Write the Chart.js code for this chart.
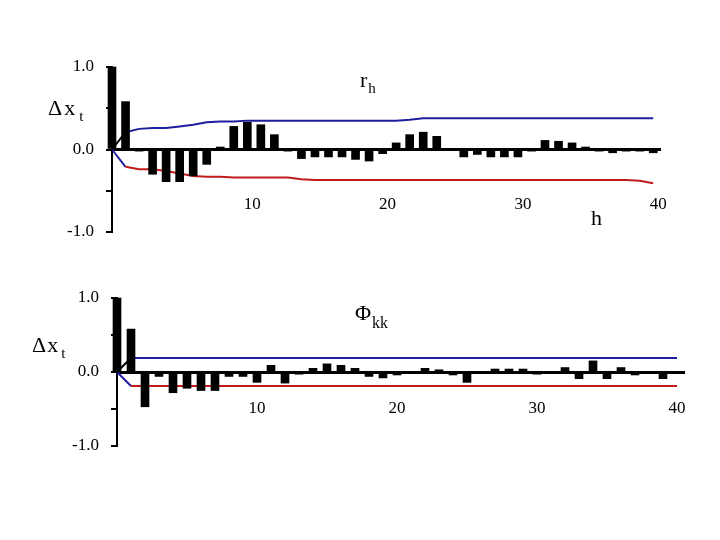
<!DOCTYPE html>
<html>
<head>
<meta charset="utf-8">
<script src="https://cdn.jsdelivr.net/npm/chart.js@4/dist/chart.umd.min.js"></script>
<style>
  body { margin: 0; background: #fff; }
  #wrap { position: relative; width: 720px; height: 540px; }
  canvas { position: absolute; left: 0; }
  .lbl { position: absolute; font-family: "Liberation Serif", serif; line-height: 1; color: #000; white-space: nowrap; }
  .sub { position: relative; }
</style>
</head>
<body>
<div id="wrap">
  <canvas id="acfChart" width="720" height="270" style="top:0"></canvas>
  <canvas id="pacfChart" width="720" height="270" style="top:270px"></canvas>

  <div class="lbl" style="left:48px; top:97px; font-size:22px">Δ<span style="margin-left:2px">x</span><span class="sub" style="font-size:15px; top:6px; margin-left:4px">t</span></div>
  <div class="lbl" style="left:360px; top:69px; font-size:22px">r<span class="sub" style="font-size:15px; top:6px; margin-left:1px">h</span></div>
  <div class="lbl" style="left:591px; top:207px; font-size:22px">h</div>

  <div class="lbl" style="left:32px; top:334px; font-size:22px">Δ<span style="margin-left:1px">x</span><span class="sub" style="font-size:15px; top:6px; margin-left:3px">t</span></div>
  <div class="lbl" style="left:355px; top:302px; font-size:22px">Φ<span class="sub" style="font-size:16px; top:8px; margin-left:1px">kk</span></div>
</div>

<script>
// lags 0..40
const lags = [0, 1, 2, 3, 4, 5, 6, 7, 8, 9, 10, 11, 12, 13, 14, 15, 16, 17, 18, 19, 20,
  21, 22, 23, 24, 25, 26, 27, 28, 29, 30, 31, 32, 33, 34, 35, 36, 37, 38, 39, 40];
const xTickLabels = ["10", "20", "30", "40"];
const yTickLabels = ["-1.0", "0.0", "1.0"];

// autocorrelations r_h
const acf = [1.0, 0.58, -0.02, -0.30, -0.39, -0.39, -0.32, -0.18, 0.03, 0.28, 0.33,
  0.30, 0.18, -0.02, -0.11, -0.09, -0.09, -0.09, -0.12, -0.14, -0.05,
  0.08, 0.18, 0.21, 0.16, -0.01, -0.09, -0.06, -0.09, -0.09, -0.09,
  -0.02, 0.11, 0.10, 0.08, 0.03, -0.02, -0.04, -0.02, -0.02, -0.04];
const acfUpper = [0, 0.21, 0.25, 0.26, 0.26, 0.28, 0.30, 0.33, 0.34, 0.34, 0.35,
  0.35, 0.35, 0.35, 0.35, 0.35, 0.35, 0.35, 0.35, 0.35, 0.35,
  0.35, 0.36, 0.38, 0.38, 0.38, 0.38, 0.38, 0.38, 0.38, 0.38,
  0.38, 0.38, 0.38, 0.38, 0.38, 0.38, 0.38, 0.38, 0.38, 0.38];
const acfLower = [0, -0.21, -0.24, -0.24, -0.26, -0.29, -0.32, -0.33, -0.33, -0.34, -0.34,
  -0.34, -0.34, -0.34, -0.36, -0.37, -0.37, -0.37, -0.37, -0.37, -0.37,
  -0.37, -0.37, -0.37, -0.37, -0.37, -0.37, -0.37, -0.37, -0.37, -0.37,
  -0.37, -0.37, -0.37, -0.37, -0.37, -0.37, -0.37, -0.37, -0.38, -0.41];

// partial autocorrelations phi_kk
const pacf = [1.0, 0.58, -0.47, -0.06, -0.28, -0.22, -0.25, -0.25, -0.06, -0.06, -0.14,
  0.09, -0.15, -0.03, 0.05, 0.11, 0.09, 0.05, -0.06, -0.08, -0.04,
  -0.01, 0.05, 0.03, -0.04, -0.14, -0.01, 0.04, 0.04, 0.04, -0.03,
  -0.01, 0.06, -0.09, 0.15, -0.09, 0.06, -0.04, -0.01, -0.09, -0.01];
const pacfUpper = [0, 0.19, 0.19, 0.19, 0.19, 0.19, 0.19, 0.19, 0.19, 0.19, 0.19,
  0.19, 0.19, 0.19, 0.19, 0.19, 0.19, 0.19, 0.19, 0.19, 0.19,
  0.19, 0.19, 0.19, 0.19, 0.19, 0.19, 0.19, 0.19, 0.19, 0.19,
  0.19, 0.19, 0.19, 0.19, 0.19, 0.19, 0.19, 0.19, 0.19, 0.19];
const pacfLower = [0, -0.19, -0.19, -0.19, -0.19, -0.19, -0.19, -0.19, -0.19, -0.19, -0.19,
  -0.19, -0.19, -0.19, -0.19, -0.19, -0.19, -0.19, -0.19, -0.19, -0.19,
  -0.19, -0.19, -0.19, -0.19, -0.19, -0.19, -0.19, -0.19, -0.19, -0.19,
  -0.19, -0.19, -0.19, -0.19, -0.19, -0.19, -0.19, -0.19, -0.19, -0.19];

const BLUE = "#1e1ea0";
const RED = "#c01c1c";
const FONT = "'Liberation Serif', 'Times New Roman', serif";

const pts = (vals) => lags.map((l, i) => ({ x: l, y: vals[i] }));

function makeChart(id, vals, upper, lower, s) {
  const ctx = document.getElementById(id).getContext("2d");
  return new Chart(ctx, {
    type: "bar",
    data: {
      datasets: [
        {
          type: "bar",
          data: pts(vals),
          backgroundColor: "#000",
          barThickness: 8,
          clip: false,
          order: 0,
        },
        {
          type: "line",
          data: pts(upper),
          borderColor: BLUE,
          borderWidth: 2,
          pointRadius: 0,
          fill: false,
          order: 1,
          segment: { borderColor: (c) => (c.p0DataIndex === 0 ? "#000" : undefined) },
        },
        {
          type: "line",
          data: pts(lower),
          borderColor: RED,
          borderWidth: 2,
          pointRadius: 0,
          fill: false,
          order: 1,
          segment: { borderColor: (c) => (c.p0DataIndex === 0 ? BLUE : undefined) },
        },
      ],
    },
    options: {
      responsive: false,
      animation: false,
      events: [],
      layout: { padding: { left: 0, top: s.top, right: s.right, bottom: s.bottom } },
      plugins: { legend: { display: false }, tooltip: { enabled: false } },
      scales: {
        x: {
          type: "linear",
          min: 0,
          max: 40.5,
          offset: false,
          position: { y: 0 },
          afterBuildTicks: (axis) => {
            axis.ticks = xTickLabels.map((t) => ({ value: Number(t) }));
          },
          grid: { display: true, offset: false, drawOnChartArea: false, drawTicks: false },
          border: { display: true, color: "#000", width: 3 },
          ticks: {
            autoSkip: false,
            maxRotation: 0,
            padding: s.xPad,
            labelOffset: s.xOff,
            color: "#000",
            font: { family: FONT, size: 17 },
            callback: (v) => String(v),
          },
        },
        y: {
          position: "left",
          min: -1,
          max: 1,
          afterFit: (axis) => { axis.width = s.left; },
          grid: { display: true, drawOnChartArea: false, drawTicks: true, tickLength: 6, tickColor: "#000", lineWidth: 2 },
          border: { display: true, color: "#000", width: 2 },
          ticks: {
            stepSize: 0.5,
            padding: 12,
            color: "#000",
            font: { family: FONT, size: 17 },
            callback: (v) => {
              const t = v.toFixed(1);
              return yTickLabels.includes(t) ? t : "";
            },
          },
        },
      },
    },
  });
}

makeChart("acfChart", acf, acfUpper, acfLower, { left: 112, top: 67, right: 60, bottom: 38, xPad: 45, xOff: 5 });
makeChart("pacfChart", pacf, pacfUpper, pacfLower, { left: 117, top: 28, right: 36, bottom: 94, xPad: 26, xOff: 0 });
</script>
</body>
</html>
